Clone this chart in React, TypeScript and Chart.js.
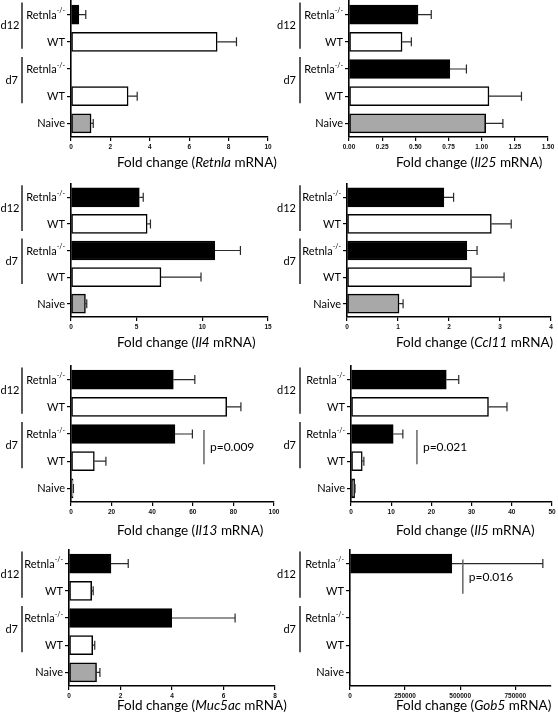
import React, { useEffect, useRef } from 'react';
import { Chart, registerables } from 'chart.js';

Chart.register(...registerables);

// ---------- data ----------
const categories = ['Retnla', 'WT', 'Retnla', 'WT', 'Naive'];
const categorySup = ['-/-', '', '-/-', '', ''];
const groupLabels = ['d12', 'd7'];
const barColors = ['#000000', '#ffffff', '#000000', '#ffffff', '#a8a8a8'];

const genes = ['Retnla', 'Il25', 'Il4', 'Ccl11', 'Il13', 'Il5', 'Muc5ac', 'Gob5'];

const retnlaMean = [0.4, 7.42, 0, 2.9, 1.02];
const retnlaSem = [0.35, 0.98, 0, 0.46, 0.11];
const il25Mean = [0.52, 0.4, 0.76, 1.055, 1.03];
const il25Sem = [0.1, 0.07, 0.125, 0.245, 0.13];
const il4Mean = [5.2, 5.8, 10.95, 6.85, 1.1];
const il4Sem = [0.3, 0.25, 1.95, 3.05, 0.1];
const ccl11Mean = [1.9, 2.83, 2.35, 2.44, 1.02];
const ccl11Sem = [0.19, 0.39, 0.2, 0.64, 0.08];
const il13Mean = [50.4, 76.7, 51.2, 11.5, 1.0];
const il13Sem = [10.6, 7.0, 8.6, 5.7, 0.2];
const il5Mean = [23.7, 34.2, 10.5, 2.8, 0.9];
const il5Sem = [3.1, 4.6, 2.4, 0.4, 0.1];
const muc5acMean = [1.63, 0.88, 3.99, 0.92, 1.07];
const muc5acSem = [0.67, 0.06, 2.46, 0.08, 0.13];
const gob5Mean = [462000, 0, 0, 0, 0];
const gob5Sem = [413000, 0, 0, 0, 0];

const means = [retnlaMean, il25Mean, il4Mean, ccl11Mean, il13Mean, il5Mean, muc5acMean, gob5Mean];
const sems = [retnlaSem, il25Sem, il4Sem, ccl11Sem, il13Sem, il5Sem, muc5acSem, gob5Sem];

const axisMax = [10, 1.5, 15, 4, 100, 50, 8, 912000];
const axisStep = [2, 0.25, 5, 1, 20, 10, 2, 250000];
const tickDecimals = [0, 2, 0, 0, 0, 0, 0, 0];

// p-value annotations: panel, text, x value, from category, to category
const pPanels = [4, 5, 7];
const pTexts = ['p=0.009', 'p=0.021', 'p=0.016'];
const pXValues = [65.5, 16.4, 512000];
const pFrom = [2, 2, 0];
const pTo = [3, 3, 1];

// ---------- layout ----------
const W = 558;
const H = 720;
const panelLeft = [71, 349, 71, 347, 71, 351, 69, 350];
const panelRight = [268, 548, 268, 551, 274, 552, 275, 551];
const rowTop = [1, 184, 366, 550];
const rowBottom = [137, 317, 502, 686];
const rowTitleY = [163, 343, 531, 706];
const colBracketX = [22, 300];
const colTitleX = [117, 396];
const X_AXIS_H = 14;
const Y_AXIS_W = 4;

const FONT = 'Lato, "Open Sans", sans-serif';

function makePlugin(p: number) {
  const col = p % 2;
  return {
    id: 'custom' + p,
    afterDraw(chart: any) {
      const ctx = chart.ctx;
      const xs = chart.scales.x;
      const ys = chart.scales.y;
      const area = chart.chartArea;
      const m = means[p];
      const s = sems[p];
      ctx.save();
      // error bars
      ctx.strokeStyle = '#2a2a2a';
      ctx.lineWidth = 1.2;
      for (let i = 0; i < m.length; i++) {
        if (!(s[i] > 0)) continue;
        const x0 = xs.getPixelForValue(m[i]);
        const x1 = xs.getPixelForValue(m[i] + s[i]);
        const y = ys.getPixelForValue(i);
        ctx.beginPath();
        ctx.moveTo(x0, y);
        ctx.lineTo(x1, y);
        ctx.moveTo(x1, y - 4.5);
        ctx.lineTo(x1, y + 4.5);
        ctx.stroke();
      }
      // category labels
      ctx.fillStyle = '#000';
      ctx.textBaseline = 'middle';
      const xr = area.left - 6;
      for (let i = 0; i < categories.length; i++) {
        const y = ys.getPixelForValue(i);
        let supW = 0;
        if (categorySup[i]) {
          ctx.font = `7px ${FONT}`;
          supW = ctx.measureText(categorySup[i]).width;
          ctx.textAlign = 'right';
          ctx.fillText(categorySup[i], xr, y - 3.5);
        }
        ctx.font = `11px ${FONT}`;
        ctx.textAlign = 'right';
        ctx.fillText(categories[i], xr - supW, y + 0.5);
      }
      // group brackets
      const bx = colBracketX[col];
      ctx.strokeStyle = '#000';
      ctx.lineWidth = 1.3;
      for (let g = 0; g < groupLabels.length; g++) {
        const yTop = ys.getPixelForValue(g * 2) - 12;
        const yBot = ys.getPixelForValue(g * 2 + 1) + 7;
        ctx.beginPath();
        ctx.moveTo(bx, yTop);
        ctx.lineTo(bx, yBot);
        ctx.stroke();
        ctx.font = `11px ${FONT}`;
        ctx.textAlign = 'left';
        const lw = ctx.measureText(groupLabels[g]).width;
        ctx.fillText(groupLabels[g], Math.max(0.5, bx - 4 - lw), (yTop + yBot) / 2);
      }
      // x title
      const row = Math.floor(p / 2);
      let tx = colTitleX[col];
      const ty = rowTitleY[row];
      ctx.textAlign = 'left';
      ctx.font = `13.5px ${FONT}`;
      const t1 = 'Fold change (';
      ctx.fillText(t1, tx, ty);
      tx += ctx.measureText(t1).width;
      ctx.font = `italic 13.5px ${FONT}`;
      ctx.fillText(genes[p], tx, ty);
      tx += ctx.measureText(genes[p]).width;
      ctx.font = `13.5px ${FONT}`;
      ctx.fillText(' mRNA)', tx, ty);
      // p-values
      for (let k = 0; k < pPanels.length; k++) {
        if (pPanels[k] !== p) continue;
        const x = xs.getPixelForValue(pXValues[k]);
        const yA = ys.getPixelForValue(pFrom[k]) - 4;
        const yB = ys.getPixelForValue(pTo[k]) + 3;
        ctx.strokeStyle = '#666';
        ctx.lineWidth = 1.5;
        ctx.beginPath();
        ctx.moveTo(x, yA);
        ctx.lineTo(x, yB);
        ctx.stroke();
        ctx.fillStyle = '#000';
        ctx.font = `12px ${FONT}`;
        ctx.textAlign = 'left';
        ctx.fillText(pTexts[k], x + 6, (yA + yB) / 2);
      }
      ctx.restore();
    },
  };
}

function Panel({ p }: { p: number }) {
  const ref = useRef<HTMLCanvasElement | null>(null);
  useEffect(() => {
    if (!ref.current) return;
    const row = Math.floor(p / 2);
    const left = panelLeft[p];
    const right = panelRight[p];
    const top = rowTop[row];
    const bottom = rowBottom[row];
    const chart = new Chart(ref.current, {
      type: 'bar',
      data: {
        labels: categories.map((c, i) => c + categorySup[i]),
        datasets: [
          {
            data: means[p],
            backgroundColor: barColors,
            borderColor: '#000',
            borderWidth: 1.5,
            borderSkipped: false,
            barThickness: 19,
          },
        ],
      },
      options: {
        indexAxis: 'y',
        animation: false,
        responsive: false,
        maintainAspectRatio: false,
        events: [],
        layout: {
          padding: {
            left: left - Y_AXIS_W,
            right: W - right,
            top: top,
            bottom: H - bottom - X_AXIS_H,
          },
        },
        plugins: {
          legend: { display: false },
          tooltip: { enabled: false },
          title: { display: false },
        },
        scales: {
          x: {
            type: 'linear',
            min: 0,
            max: axisMax[p],
            grid: {
              drawOnChartArea: false,
              drawTicks: true,
              tickLength: 4,
              color: '#000',
              lineWidth: 1.2,
            },
            border: { display: true, color: '#000', width: 1.6 },
            ticks: {
              autoSkip: false,
              maxRotation: 0,
              padding: 2,
              color: '#111',
              font: { family: '"Liberation Sans", Arial, sans-serif', size: 6.5, weight: 'bold' },
              callback: (v: any) => Number(v).toFixed(tickDecimals[p]),
            },
            afterBuildTicks: (s: any) => {
              const t: any[] = [];
              const n = Math.floor(axisMax[p] / axisStep[p] + 1e-9);
              for (let i = 0; i <= n; i++) t.push({ value: i * axisStep[p] });
              s.ticks = t;
            },
            afterFit: (s: any) => {
              s.height = X_AXIS_H;
            },
          },
          y: {
            type: 'category',
            offset: true,
            grid: {
              drawOnChartArea: false,
              drawTicks: true,
              tickLength: 4,
              color: '#000',
              lineWidth: 1.2,
              offset: false,
            },
            border: { display: true, color: '#000', width: 1.6 },
            ticks: { display: false },
            afterFit: (s: any) => {
              s.width = Y_AXIS_W;
            },
          },
        },
      },
      plugins: [makePlugin(p)],
    } as any);
    return () => chart.destroy();
  }, [p]);
  return (
    <canvas
      ref={ref}
      width={W}
      height={H}
      style={{ position: 'absolute', left: 0, top: 0, width: W, height: H, pointerEvents: 'none' }}
    />
  );
}

export default function App() {
  const panels = [0, 1, 2, 3, 4, 5, 6, 7];
  return (
    <div style={{ position: 'absolute', left: 0, top: 0, width: W, height: H, background: '#fff', overflow: 'hidden' }}>
      {panels.map((p) => (
        <Panel key={p} p={p} />
      ))}
    </div>
  );
}
